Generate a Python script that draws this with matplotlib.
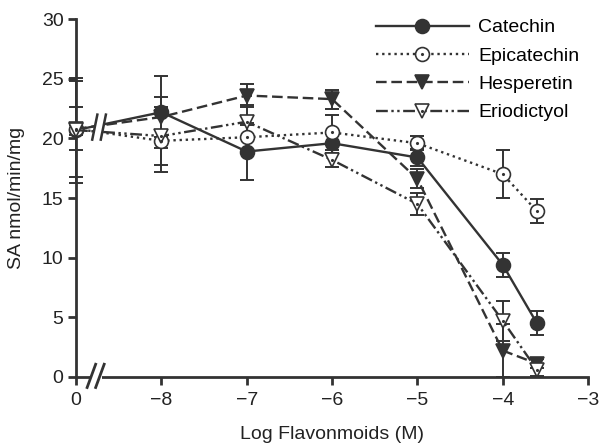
import matplotlib
matplotlib.use("Agg")
import matplotlib.pyplot as plt
from matplotlib.patches import Rectangle
from matplotlib.legend_handler import HandlerTuple

plt.rcParams["font.family"] = ["Liberation Sans", "DejaVu Sans"]
plt.rcParams["font.size"] = 14

INK = "#333333"

# x position -9 stands for the control (labelled "0" on the axis)
log_conc = [-9, -8, -7, -6, -5, -4, -3.6]
tick_pos = [-9, -8, -7, -6, -5, -4, -3]
tick_labels = ["0", "\u22128", "\u22127", "\u22126", "\u22125", "\u22124", "\u22123"]

catechin = [20.7, 22.2, 18.9, 19.6, 18.4, 9.4, 4.5]
catechin_err = [4.4, 3.0, 2.4, 0.8, 0.7, 1.0, 1.0]
epicatechin = [20.8, 19.8, 20.1, 20.5, 19.6, 17.0, 13.9]
epicatechin_err = [4.0, 2.6, 1.0, 1.5, 0.6, 2.0, 1.0]
hesperetin = [20.8, 21.8, 23.6, 23.3, 16.6, 2.2, 1.1]
hesperetin_err = [1.8, 1.7, 1.0, 0.8, 0.8, 2.2, 0.4]
eriodictyol = [20.7, 20.2, 21.4, 18.2, 14.5, 4.7, 0.6]
eriodictyol_err = [0.4, 2.4, 1.4, 0.6, 0.9, 1.7, 0.5]

series = [
    ("Catechin", catechin, catechin_err, "o", INK, "-", False),
    ("Epicatechin", epicatechin, epicatechin_err, "o", "white", (0, (1, 1.6)), True),
    ("Hesperetin", hesperetin, hesperetin_err, "v", INK, (0, (4.5, 2.0)), False),
    ("Eriodictyol", eriodictyol, eriodictyol_err, "v", "white",
     (0, (5, 1.5, 1, 1.5, 1, 1.5)), True),
]

fig = plt.figure(figsize=(6.01, 4.48), dpi=100)
ax = fig.add_axes([0.1265, 0.159, 0.852, 0.798])

handles = []
for name, y, err, mk, face, ls, dotted in series:
    ax.errorbar(log_conc, y, yerr=err, fmt="none", ecolor=INK,
                elinewidth=1.4, capsize=5, capthick=1.4, clip_on=False, zorder=2)
    line, = ax.plot(log_conc, y, color=INK, ls=ls, lw=1.7, marker=mk,
                    ms=10 if mk == "o" else 9.5, mfc=face, mec=INK, mew=1.2,
                    clip_on=False, zorder=3)
    h = line
    if dotted:
        dot, = ax.plot(log_conc, y, ls="none", marker=".", ms=2.5, color=INK,
                       clip_on=False, zorder=4)
        h = (line, dot)
    handles.append((h, name))

# break on the data lines between control and the first concentration
ax.add_patch(Rectangle((-8.78, 19.6), 0.1, 2.6, facecolor="white",
                       edgecolor="none", zorder=5))
for xb in (-8.78, -8.68):
    ax.plot([xb - 0.03, xb + 0.03], [19.9, 22.0], color=INK, lw=1.8, zorder=6)

ax.set_xlim(-9, -3)
ax.set_ylim(0, 30)
ax.set_xticks(tick_pos)
ax.set_xticklabels(tick_labels)
ax.set_yticks(range(0, 31, 5))

for side in ("top", "right"):
    ax.spines[side].set_visible(False)
for side in ("left", "bottom"):
    ax.spines[side].set_color(INK)
    ax.spines[side].set_linewidth(2)
ax.tick_params(colors=INK, width=2, length=6, labelcolor="#222222")
ax.tick_params(axis="x", pad=5)
ax.tick_params(axis="y", pad=3)

# axis break on the x axis
trans = ax.get_xaxis_transform()
ax.add_patch(Rectangle((-8.84, -0.02), 0.14, 0.04, transform=trans,
                       facecolor="white", edgecolor="none", clip_on=False, zorder=5))
for xb in (-8.82, -8.72):
    ax.plot([xb - 0.05, xb + 0.05], [-0.03, 0.035], transform=trans,
            color=INK, lw=2, clip_on=False, zorder=6)

ax.set_xlabel("Log Flavonmoids (M)", color="#222222", labelpad=12)
ax.set_ylabel("SA nmol/min/mg", color="#222222", labelpad=12)

leg = fig.legend([h for h, _ in handles], [n for _, n in handles],
                 handler_map={tuple: HandlerTuple(ndivide=1)},
                 loc="upper left", bbox_to_anchor=(0.597, 0.997),
                 frameon=False, numpoints=1, handlelength=4.75,
                 handletextpad=0.5, labelspacing=0.55)

fig.savefig("out.png", dpi=100)
